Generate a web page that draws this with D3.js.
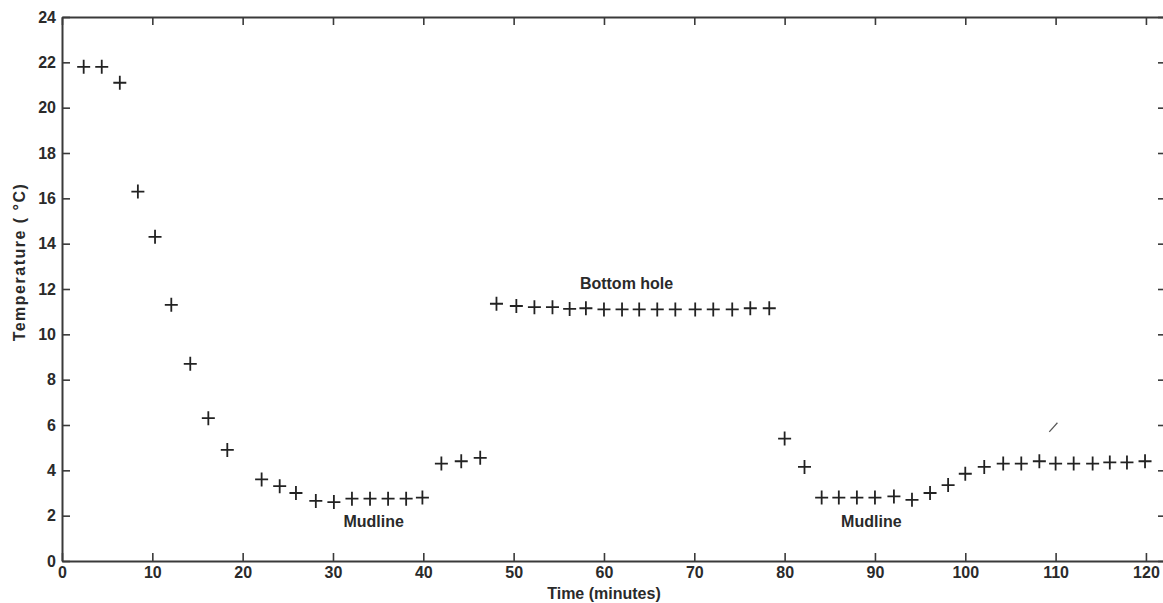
<!DOCTYPE html>
<html>
<head>
<meta charset="utf-8">
<script src="https://cdn.jsdelivr.net/npm/d3@7"></script>
<style>
  body { margin: 0; background: #fff; }
  svg text { font-family: "Liberation Sans", Arial, sans-serif; fill: #2a2a2a; }
  .axis path, .axis line { stroke: #3a3a3a; }
</style>
</head>
<body>
<div id="chart"></div>
<script>
// readings: time (minutes) and temperature (deg C)
const timeMin = [2.4, 4.4, 6.4, 8.4, 10.3, 12.1, 14.2, 16.2, 18.3, 22.1, 24.1, 25.9, 28.1, 30.1, 32.1, 34.1, 36.1, 38.1, 39.9,
  42.0, 44.2, 46.3,
  48.1, 50.3, 52.3, 54.3, 56.2, 58.0, 60.0, 62.0, 63.9, 65.9, 67.9, 70.1, 72.1, 74.2, 76.2, 78.3,
  80.0, 82.2, 84.1, 86.0, 88.0, 90.0, 92.1, 94.1, 96.1, 98.1, 100.0, 102.1, 104.2, 106.2, 108.2, 110.0, 112.0, 114.1, 116.0, 117.9, 119.9];
const tempC = [21.8, 21.8, 21.1, 16.3, 14.3, 11.3, 8.7, 6.3, 4.9, 3.6, 3.3, 3.0, 2.65, 2.6, 2.75, 2.75, 2.75, 2.75, 2.8,
  4.3, 4.4, 4.55,
  11.35, 11.25, 11.2, 11.2, 11.12, 11.15, 11.1, 11.1, 11.1, 11.1, 11.1, 11.1, 11.1, 11.1, 11.15, 11.15,
  5.4, 4.15, 2.8, 2.8, 2.8, 2.8, 2.85, 2.7, 3.0, 3.35, 3.85, 4.15, 4.3, 4.3, 4.4, 4.3, 4.3, 4.3, 4.35, 4.35, 4.4];

const xTicks = [0, 10, 20, 30, 40, 50, 60, 70, 80, 90, 100, 110, 120];
const yTicks = [0, 2, 4, 6, 8, 10, 12, 14, 16, 18, 20, 22, 24];

const labels = [
  {text: 'Bottom hole', t: 62.5, v: 12.0},
  {text: 'Mudline', t: 34.5, v: 1.5},
  {text: 'Mudline', t: 89.6, v: 1.5}
];

const config = {
  width: 1163, height: 603,
  margin: {top: 17, right: -1, bottom: 42, left: 62},
  tickLen: 8, crossHalf: 6.5
};

const width = config.width - config.margin.left - config.margin.right;
const height = config.height - config.margin.top - config.margin.bottom;

const svg = d3.select('#chart').append('svg')
  .attr('width', config.width)
  .attr('height', config.height);

const chart = svg.append('g')
  .attr('transform', `translate(${config.margin.left},${config.margin.top})`);

const x = d3.scaleLinear().domain([0, 122]).range([0, width]);
const y = d3.scaleLinear().domain([0, 24]).range([height, 0]);

const fontSize = '16px';

// bottom axis with inward ticks
const xAxis = chart.append('g').attr('class', 'axis')
  .attr('transform', `translate(0,${height})`)
  .call(d3.axisBottom(x).tickValues(xTicks).tickSizeInner(-config.tickLen).tickSizeOuter(0).tickPadding(6));
xAxis.selectAll('text').style('font-size', fontSize).attr('font-weight', 'bold').attr('fill', '#2a2a2a');

// top axis, ticks only
chart.append('g').attr('class', 'axis')
  .call(d3.axisTop(x).tickValues(xTicks).tickSizeInner(-config.tickLen).tickSizeOuter(0).tickFormat(''));

// left axis
const yAxis = chart.append('g').attr('class', 'axis')
  .call(d3.axisLeft(y).tickValues(yTicks).tickSizeInner(-config.tickLen).tickSizeOuter(0).tickPadding(6));
yAxis.selectAll('text').style('font-size', fontSize).attr('font-weight', 'bold').attr('fill', '#2a2a2a');

// right axis, ticks only
chart.append('g').attr('class', 'axis')
  .attr('transform', `translate(${width},0)`)
  .call(d3.axisRight(y).tickValues(yTicks).tickSizeInner(-6).tickSizeOuter(0).tickFormat(''));

svg.selectAll('.axis path').attr('stroke-width', 2);
svg.selectAll('.axis line').attr('stroke-width', 1.6);

// plus-sign markers
const data = timeMin.map((t, i) => ({t: t, v: tempC[i]}));
const h = config.crossHalf;
chart.selectAll('.cross')
  .data(data)
  .join('path')
  .attr('class', 'cross')
  .attr('d', d => {
    const cx = x(d.t), cy = y(d.v);
    return `M${cx - h},${cy}H${cx + h}M${cx},${cy - h - 0.5}V${cy + h + 0.5}`;
  })
  .attr('stroke', '#222')
  .attr('stroke-width', 1.8)
  .attr('fill', 'none');

// stray pen mark near 110 min
chart.append('line')
  .attr('x1', x(109.3)).attr('y1', y(5.7))
  .attr('x2', x(110.2)).attr('y2', y(6.1))
  .attr('stroke', '#555').attr('stroke-width', 1.2);

chart.selectAll('.note')
  .data(labels)
  .join('text')
  .attr('class', 'note')
  .attr('x', d => x(d.t))
  .attr('y', d => y(d.v))
  .attr('text-anchor', 'middle')
  .style('font-size', '16px')
  .attr('font-weight', 'bold')
  .text(d => d.text);

// axis titles
svg.append('text')
  .attr('x', config.margin.left + x(60))
  .attr('y', 599)
  .attr('text-anchor', 'middle')
  .style('font-size', '16px')
  .attr('font-weight', 'bold')
  .text('Time (minutes)');

svg.append('text')
  .attr('transform', 'translate(25,262) rotate(-90)')
  .attr('text-anchor', 'middle')
  .style('font-size', '16px')
  .style('letter-spacing', '1.5px')
  .attr('font-weight', 'bold')
  .text('Temperature ( °C)');
</script>
</body>
</html>
